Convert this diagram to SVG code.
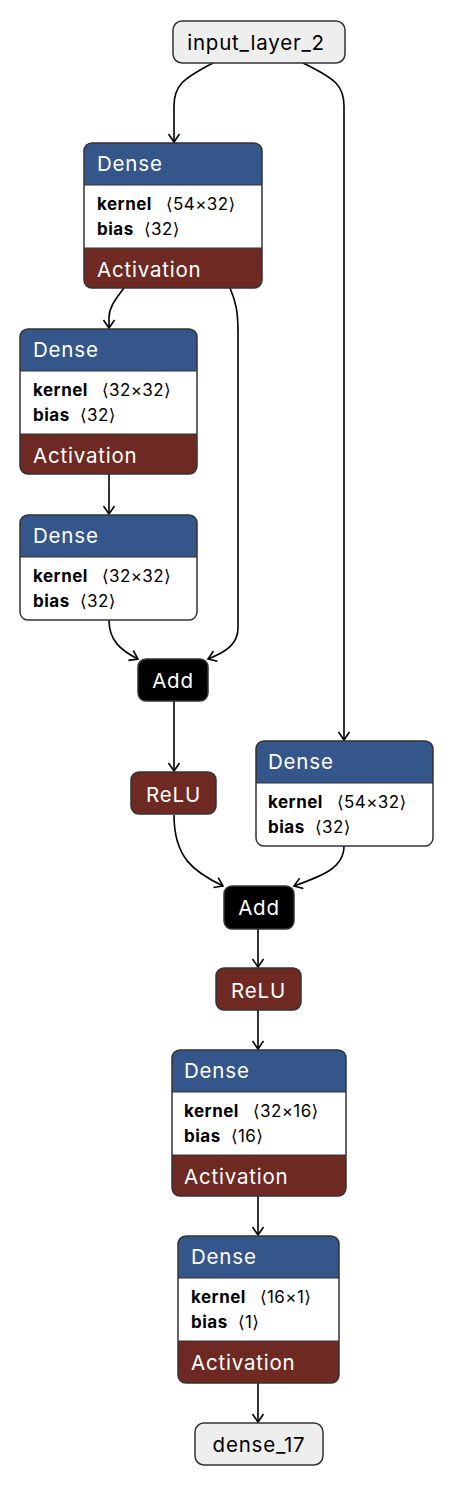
<svg xmlns="http://www.w3.org/2000/svg" width="454" height="1486" viewBox="0 0 454 1486">
<style>
text{font-family:"Inter","Liberation Sans","DejaVu Sans",sans-serif;}
.hd{fill:#34568a;}
.ac{fill:#6e2a22;}
.bd{fill:#ffffff;}
.ol{fill:none;stroke:#333333;stroke-width:1.5;}
.sep{stroke:#333333;stroke-width:1.2;}
.wt{fill:#ffffff;font-size:20.5px;letter-spacing:0.8px;}
.bt{fill:#000000;font-size:17px;letter-spacing:0.4px;}
.bb{fill:#000000;font-size:17px;font-weight:bold;letter-spacing:0.5px;}
.io{fill:#eeeeee;stroke:#333333;stroke-width:1.5;}
.iot{fill:#000000;font-size:20.5px;letter-spacing:0.8px;text-anchor:middle;}
.add{fill:#000000;stroke:#333333;stroke-width:1.5;}
.relu{fill:#6e2a22;stroke:#333333;stroke-width:1.5;}
.ct{fill:#ffffff;font-size:20.5px;letter-spacing:0.8px;text-anchor:middle;}
.edge{fill:none;stroke:#000000;stroke-width:1.6;marker-end:url(#arr);}
</style>
<defs>
<marker id="arr" markerUnits="userSpaceOnUse" markerWidth="14" markerHeight="14" viewBox="-10 -7 12 14" refX="0" refY="0" orient="auto">
<path d="M-8,-5.5 L0,0 L-8,5.5" fill="none" stroke="#000" stroke-width="1.6"/>
</marker>
</defs>

<g id="connectors">
<path class="edge" d="M213,63 C182,79 174,86 174,106 L174,142"/>
<path class="edge" d="M303,63 C336,79 344,86 344,106 L344,740"/>
<path class="edge" d="M124,288 C114,301 109,308 109,318 L109,328"/>
<path class="edge" d="M230,288 C236,302 238,312 238,332 L238,628 C238,644 226,652 208,659"/>
<path class="edge" d="M109,474 L109,514"/>
<path class="edge" d="M109,620 C109,640 120,650 138,659"/>
<path class="edge" d="M174,701 L174,771"/>
<path class="edge" d="M174,815 C174,858 194,872 223,886"/>
<path class="edge" d="M344,846 C344,868 322,876 294,886"/>
<path class="edge" d="M258,929 L258,967"/>
<path class="edge" d="M258,1010 L258,1049"/>
<path class="edge" d="M258,1196 L258,1235"/>
<path class="edge" d="M258,1383 L258,1422"/>
</g>

<g id="input_layer_2">
<rect class="io" x="173" y="21" width="172" height="42" rx="9"/>
<text class="iot" x="256" y="50">input_layer_2</text>
</g>

<g id="dense_1">
<rect class="bd" x="84" y="143" width="178" height="145" rx="8"/>
<path class="hd" d="M84,185 V151 Q84,143 92,143 H254 Q262,143 262,151 V185 Z"/>
<path class="ac" d="M84,248 H262 V280 Q262,288 254,288 H92 Q84,288 84,280 Z"/>
<line class="sep" x1="84" y1="185" x2="262" y2="185"/>
<line class="sep" x1="84" y1="248" x2="262" y2="248"/>
<rect class="ol" x="84" y="143" width="178" height="145" rx="8"/>
<text class="wt" x="97" y="171">Dense</text>
<text class="bb" x="97" y="210">kernel</text><text class="bt" x="166" y="210">⟨54×32⟩</text>
<text class="bb" x="97" y="235">bias</text><text class="bt" x="144" y="235">⟨32⟩</text>
<text class="wt" x="97" y="277">Activation</text>
</g>

<g id="dense_2">
<rect class="bd" x="20" y="329" width="177" height="145" rx="8"/>
<path class="hd" d="M20,371 V337 Q20,329 28,329 H189 Q197,329 197,337 V371 Z"/>
<path class="ac" d="M20,434 H197 V466 Q197,474 189,474 H28 Q20,474 20,466 Z"/>
<line class="sep" x1="20" y1="371" x2="197" y2="371"/>
<line class="sep" x1="20" y1="434" x2="197" y2="434"/>
<rect class="ol" x="20" y="329" width="177" height="145" rx="8"/>
<text class="wt" x="33" y="357">Dense</text>
<text class="bb" x="33" y="396">kernel</text><text class="bt" x="102" y="396">⟨32×32⟩</text>
<text class="bb" x="33" y="421">bias</text><text class="bt" x="80" y="421">⟨32⟩</text>
<text class="wt" x="33" y="463">Activation</text>
</g>

<g id="dense_3">
<rect class="bd" x="20" y="515" width="177" height="105" rx="8"/>
<path class="hd" d="M20,557 V523 Q20,515 28,515 H189 Q197,515 197,523 V557 Z"/>
<line class="sep" x1="20" y1="557" x2="197" y2="557"/>
<rect class="ol" x="20" y="515" width="177" height="105" rx="8"/>
<text class="wt" x="33" y="543">Dense</text>
<text class="bb" x="33" y="582">kernel</text><text class="bt" x="102" y="582">⟨32×32⟩</text>
<text class="bb" x="33" y="607">bias</text><text class="bt" x="80" y="607">⟨32⟩</text>
</g>

<g id="add_1">
<rect class="add" x="138" y="659" width="70" height="42" rx="8"/>
<text class="ct" x="173" y="688">Add</text>
</g>

<g id="relu_1">
<rect class="relu" x="131" y="772" width="85" height="42" rx="8"/>
<text class="ct" x="173.5" y="802">ReLU</text>
</g>

<g id="dense_4">
<rect class="bd" x="256" y="741" width="177" height="105" rx="8"/>
<path class="hd" d="M256,783 V749 Q256,741 264,741 H425 Q433,741 433,749 V783 Z"/>
<line class="sep" x1="256" y1="783" x2="433" y2="783"/>
<rect class="ol" x="256" y="741" width="177" height="105" rx="8"/>
<text class="wt" x="268" y="769">Dense</text>
<text class="bb" x="268" y="808">kernel</text><text class="bt" x="337" y="808">⟨54×32⟩</text>
<text class="bb" x="268" y="833">bias</text><text class="bt" x="315" y="833">⟨32⟩</text>
</g>

<g id="add_2">
<rect class="add" x="224" y="886" width="70" height="43" rx="8"/>
<text class="ct" x="259" y="915">Add</text>
</g>

<g id="relu_2">
<rect class="relu" x="216" y="968" width="85" height="42" rx="8"/>
<text class="ct" x="258.5" y="998">ReLU</text>
</g>

<g id="dense_5">
<rect class="bd" x="172" y="1050" width="174" height="146" rx="8"/>
<path class="hd" d="M172,1092 V1058 Q172,1050 180,1050 H338 Q346,1050 346,1058 V1092 Z"/>
<path class="ac" d="M172,1155 H346 V1188 Q346,1196 338,1196 H180 Q172,1196 172,1188 Z"/>
<line class="sep" x1="172" y1="1092" x2="346" y2="1092"/>
<line class="sep" x1="172" y1="1155" x2="346" y2="1155"/>
<rect class="ol" x="172" y="1050" width="174" height="146" rx="8"/>
<text class="wt" x="184" y="1078">Dense</text>
<text class="bb" x="184" y="1117">kernel</text><text class="bt" x="253" y="1117">⟨32×16⟩</text>
<text class="bb" x="184" y="1142">bias</text><text class="bt" x="231" y="1142">⟨16⟩</text>
<text class="wt" x="184" y="1184">Activation</text>
</g>

<g id="dense_6">
<rect class="bd" x="178" y="1236" width="161" height="147" rx="8"/>
<path class="hd" d="M178,1278 V1244 Q178,1236 186,1236 H331 Q339,1236 339,1244 V1278 Z"/>
<path class="ac" d="M178,1341 H339 V1375 Q339,1383 331,1383 H186 Q178,1383 178,1375 Z"/>
<line class="sep" x1="178" y1="1278" x2="339" y2="1278"/>
<line class="sep" x1="178" y1="1341" x2="339" y2="1341"/>
<rect class="ol" x="178" y="1236" width="161" height="147" rx="8"/>
<text class="wt" x="191" y="1264">Dense</text>
<text class="bb" x="191" y="1303">kernel</text><text class="bt" x="260" y="1303">⟨16×1⟩</text>
<text class="bb" x="191" y="1328">bias</text><text class="bt" x="238" y="1328">⟨1⟩</text>
<text class="wt" x="191" y="1370">Activation</text>
</g>

<g id="dense_17">
<rect class="io" x="195" y="1423" width="128" height="42" rx="9"/>
<text class="iot" x="259" y="1452">dense_17</text>
</g>
</svg>
